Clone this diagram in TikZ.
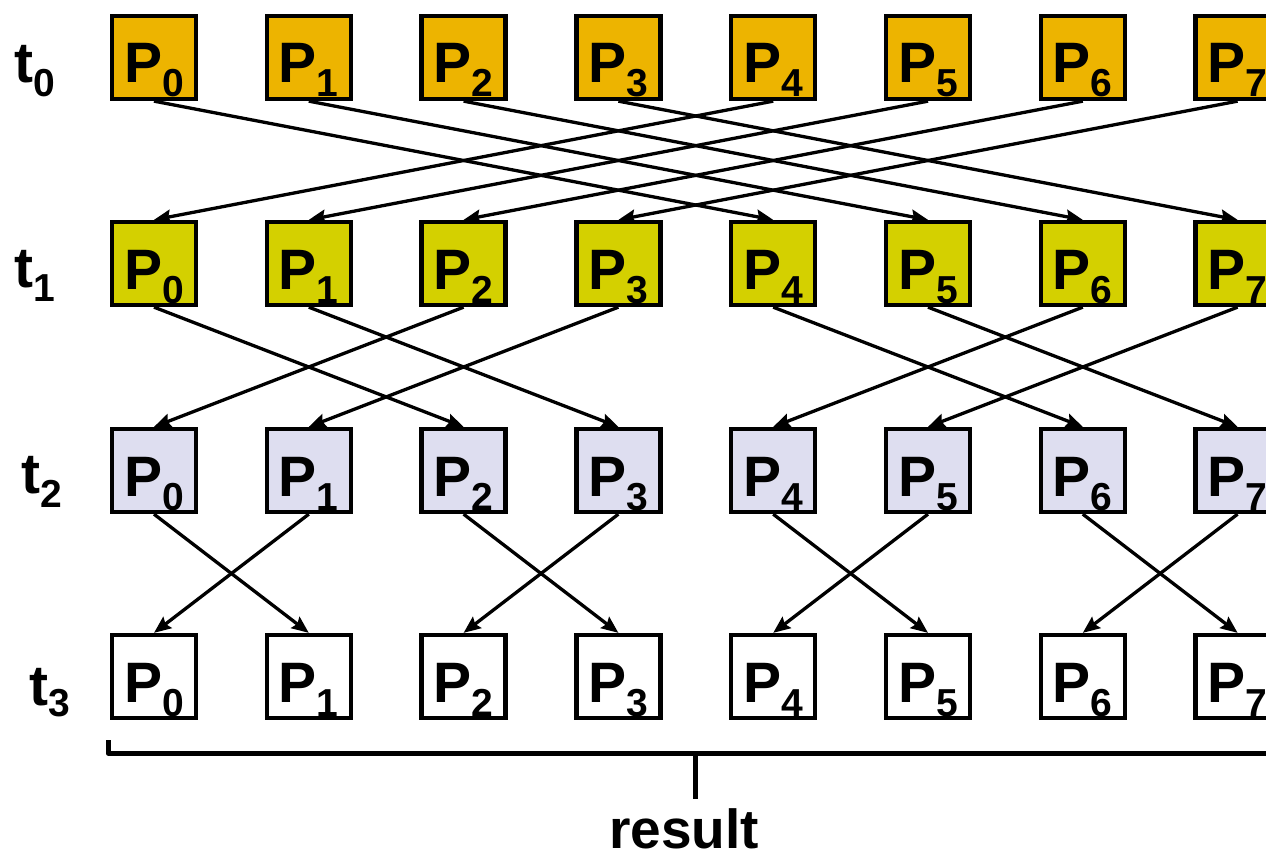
\documentclass[tikz,border=0pt]{standalone}
\usepackage{fontspec}
\setmainfont{Liberation Sans}
\usetikzlibrary{arrows.meta}
\definecolor{stepA}{RGB}{237,180,0}
\definecolor{stepB}{RGB}{212,208,0}
\definecolor{stepC}{RGB}{222,222,240}
% processor label: large P with a lowered index
\newcommand\proclabel[1]{\fontsize{57}{57}\selectfont P\raisebox{-14pt}{\fontsize{39}{39}\selectfont #1}}
% time label: t with a lowered index
\newcommand\timelabel[2]{\fontsize{57}{57}\selectfont t\raisebox{-#2pt}{\fontsize{39}{39}\selectfont #1}}
\begin{document}
\begin{tikzpicture}[x=1pt,y=-1pt,
  proc/.style={draw=black, line width=4.3pt, minimum width=84pt, minimum height=83pt,
    inner sep=0pt, text height=51pt, text depth=0pt, font=\bfseries},
  tlabel/.style={anchor=base west, inner sep=0pt, font=\bfseries},
  link/.style={line width=3.3pt, -{Stealth[length=17pt,width=14pt,inset=2.5pt]}},
  brace/.style={line width=5pt, line join=round, line cap=butt}
]
\useasboundingbox (0,0) rectangle (1266,861);
\clip (0,0) rectangle (1266,861);

% rows of processors at the four time steps
\foreach \r/\y/\c in {0/57.5/stepA,1/263.5/stepB,2/470.5/stepC,3/676.5/white}
  \foreach \i in {0,...,7}
    \node[proc, fill=\c] (p\r\i) at ({154+154.8*\i},\y) {\proclabel{\i}};

% time labels
\node[tlabel] (t0) at (14,83)  {\timelabel{0}{14}};
\node[tlabel] (t1) at (14,287) {\timelabel{1}{14}};
\node[tlabel] (t2) at (21,493) {\timelabel{2}{14}};
\node[tlabel] (t3) at (29,705) {\timelabel{3}{11}};

% step 1: exchange with partner at distance 4
\foreach \a/\b in {0/4,1/5,2/6,3/7,4/0,5/1,6/2,7/3}
  \draw[link] (p0\a.south) -- (p1\b.north);
% step 2: exchange with partner at distance 2
\foreach \a/\b in {0/2,1/3,2/0,3/1,4/6,5/7,6/4,7/5}
  \draw[link] (p1\a.south) -- (p2\b.north);
% step 3: exchange with partner at distance 1
\foreach \a/\b in {0/1,1/0,2/3,3/2,4/5,5/4,6/7,7/6}
  \draw[link] (p2\a.south) -- (p3\b.north);

% bracket collecting the final row
\coordinate (bl) at (108,740);
\coordinate (bc) at (108,753);
\coordinate (br) at (1275,753);
\coordinate (tk) at (695,753);
\node[inner sep=0pt, anchor=base, text height=41pt, text depth=0pt,
  font=\bfseries\fontsize{55}{55}\selectfont] (res) at (684,848) {result};
\coordinate (tkend) at (695,799);
\draw[brace] (bl) -- (bc) -- (br);
\draw[brace] (tk) -- (tkend);
\end{tikzpicture}
\end{document}
